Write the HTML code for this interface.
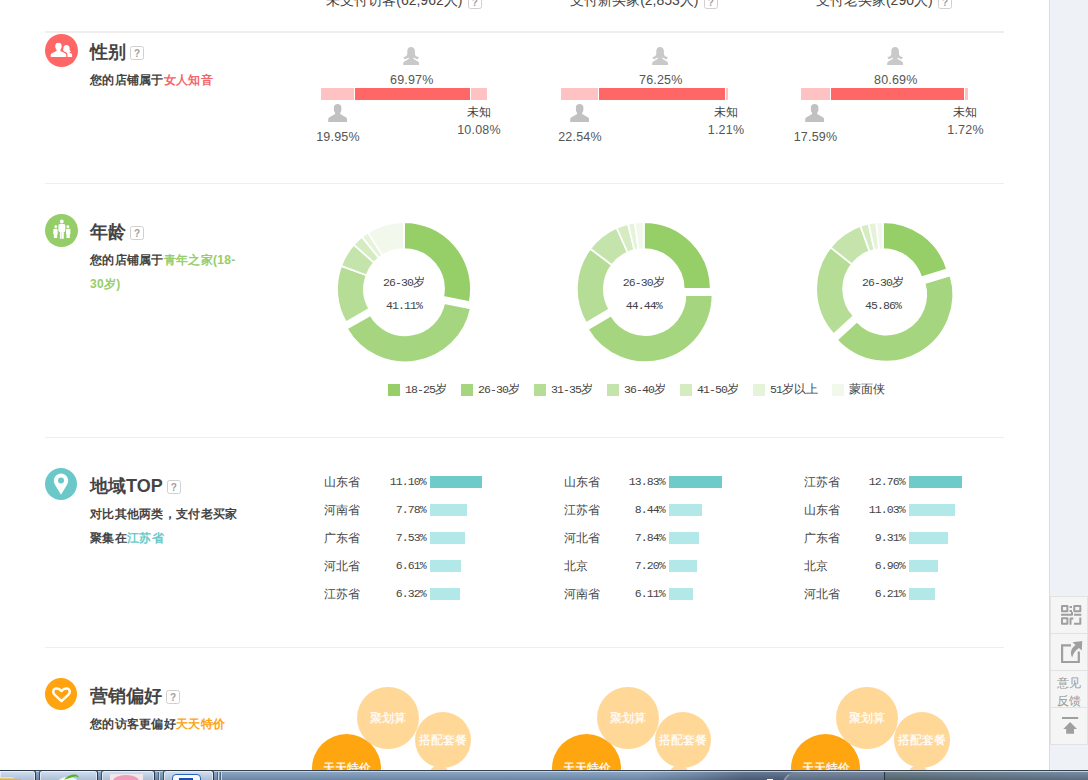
<!-- DOMAINTAG -->
<!DOCTYPE html>
<html lang="zh"><head><meta charset="utf-8"><title>访客对比</title>
<style>
*{box-sizing:border-box}
html,body{margin:0;padding:0}
html{width:1088px;height:780px;overflow:hidden;background:#fff}
body{width:1088px;height:780px;overflow:hidden;position:relative;background:#fff;font-family:"Liberation Sans",sans-serif;color:#555;font-size:12px}
.a{position:absolute}
.side{left:1049px;top:0;width:39px;height:770px;background:#eef1f6;border-left:1px solid #dcdcdc}
.tools{left:1050px;top:596px;width:38px;height:149px;background:#f5f5f5;border:1px solid #e2e2e2}
.tools i{position:absolute;left:0;width:37px;height:1px;background:#e2e2e2}
.hl{left:45px;width:959px;height:1px;background:#eee}
.hd{top:-9px;height:19px;line-height:19px;font-size:14px;color:#444;white-space:nowrap;text-align:center;width:240px}
.q{display:inline-block;width:14px;height:14px;border:1px solid #d0d0d0;border-radius:2.500px;color:#a0a0a0;font-size:10px;line-height:14px;text-align:center;font-weight:bold;vertical-align:middle;background:#fff}
.hd .q{position:relative;top:1px;margin-left:1.500px}
.tt{left:90px;font-size:18px;font-weight:bold;color:#444;line-height:24px;white-space:nowrap;height:24px}
.tt .q{margin-left:4px;position:relative;top:0;font-weight:bold}
.sub{left:90px;letter-spacing:.3px;font-size:12px;font-weight:bold;color:#444;line-height:24px;white-space:nowrap}
.pct{font-size:12.500px;line-height:14px;color:#555;white-space:nowrap;text-align:center;width:80px;letter-spacing:.2px}
.cj{font-size:12px;line-height:14px;color:#444;white-space:nowrap;text-align:center;width:80px}
.bar{top:88px;height:12px}
.mono{font-family:"Liberation Mono",monospace;font-size:11.500px;letter-spacing:-.9px;color:#444;white-space:nowrap}
.lg{top:384px;width:12px;height:12px}
.lgt{top:383px;line-height:14px;font-size:12px;color:#444;white-space:nowrap}
.rn{font-size:12px;line-height:14px;color:#444;white-space:nowrap}
.rp{width:40px;text-align:right;line-height:14px}
.rb{height:12px;background:#b2e9e8}
.rb.d{background:#6fcaca}
.bub{border-radius:50%;color:#fff;font-size:12px;text-align:center;white-space:nowrap;-webkit-text-stroke:.18px #fff}
</style></head><body>
<div id="vp" class="a" style="left:0;top:0;width:1088px;height:780px;overflow:hidden">

<!-- right page gutter -->
<div class="a side"></div>
<div class="a tools">
 <i style="top:36px"></i><i style="top:73px"></i><i style="top:110px"></i>
 <svg class="a" style="left:10px;top:8px" width="21" height="20" viewBox="0 0 21 20" fill="none" stroke="#9f9f9f" stroke-width="2" stroke-linejoin="round">
  <rect x="1" y="1" width="5.400" height="5.200"/><rect x="13.300" y="1" width="6" height="5.200"/><rect x="1" y="13.300" width="5.400" height="5.400"/>
  <path d="M8.600 1.900h2.400M8.600 6h2.400M0 9.700h11v-2.700M13 9.700h7.300M9.500 19.700v-6.300h2.800M13 18.700h6.300v-6.300"/>
 </svg>
 <svg class="a" style="left:10px;top:44px" width="22" height="23" viewBox="0 0 22 23">
  <path d="M10 4.400H1.100v16.600h16.700V10.500" fill="none" stroke="#9f9f9f" stroke-width="2.200"/>
  <path d="M11.500 1.300L21.200 0L20.800 9.400L18 6.900C14.500 9 12.300 12 11.200 16.500C8.500 11.500 10.500 6.800 14.500 4Z" fill="#9f9f9f"/>
 </svg>
 <div class="a" style="left:4px;top:77px;width:28px;font-size:12px;line-height:18px;color:#999;text-align:center">意见<br>反馈</div>
 <svg class="a" style="left:11px;top:120px" width="17" height="18" viewBox="0 0 17 18" fill="#9f9f9f">
  <rect x="0" y="0" width="16.200" height="2"/><path d="M8.100 5.100L15 12H12V16.800H4.200V12H1.300z"/>
 </svg>
</div>

<!-- column headers (clipped by viewport top) -->
<div class="a hd" style="left:284px">未支付访客(62,962人) <span class="q">?</span></div>
<div class="a hd" style="left:524px">支付新买家(2,853人) <span class="q">?</span></div>
<div class="a hd" style="left:764px">支付老买家(290人) <span class="q">?</span></div>

<!-- rules -->
<div class="a hl" style="top:31px;height:2px"></div>
<div class="a hl" style="top:183px"></div>
<div class="a hl" style="top:437px"></div>
<div class="a hl" style="top:647px"></div>

<!-- ============ gender ============ -->
<svg class="a" style="left:45px;top:34px" width="33" height="33" viewBox="0 0 33 33">
 <circle cx="16.5" cy="16.5" r="16.5" fill="#ff6666"/>
 <g fill="#fff">
  <path d="M21.500 10.900c2 0 3.100 1.400 3.100 3.300v1.300c0 .8.5 1.400 1.400 1.900c-.5.5-1.500.9-2.500.9l2.200 1c1 .4 1.400 1 1.400 2V23H19v-5l-1-2.300c.3-.3.4-.7.4-1.500c0-1.900 1.100-3.300 3.100-3.300z"/>
  <path stroke="#ff6666" stroke-width="1.2" d="M13.450 8.200c2.600 0 3.850 1.700 3.850 4c0 1.600-.5 2.800-1.300 3.600v.9l4.300 1.900c1 .5 1.500 1 1.500 2V23.600H5.100V20.600c0-1 .5-1.500 1.500-2l4.300-1.900v-.9c-.8-.8-1.300-2-1.300-3.600c0-2.300 1.250-4 3.850-4z"/>
 </g>
</svg>
<div class="a tt" style="top:40px">性别<span class="q">?</span></div>
<div class="a sub" style="top:68px">您的店铺属于<span style="color:#f5656a">女人知音</span></div>

<div class="a bar" style="left:321px;width:33px;background:#ffc2c2"></div>
<div class="a bar" style="left:355px;width:115px;background:#ff6666"></div>
<div class="a bar" style="left:471px;width:16px;background:#ffc2c2"></div>
<svg class="a" style="left:402.8px;top:46.5px" width="16.400" height="18.400" viewBox="0 0 16.400 18.400"><path fill="#c9c9c9" d="M8.100 0C10.600 0 11.900 1.800 11.900 4.200V7C11.900 8.600 13.500 9.800 16 10.300L14.700 12.200C13 12 11.600 11.300 10.900 10.500L10.300 11.700L15 14.600C15.700 15 16.100 15.600 16.100 16.400V18.400H0.200V16.400C0.200 15.600 0.600 15 1.300 14.600L6 11.700L5.400 10.500C4.700 11.300 3.300 12 1.600 12.200L0.300 10.300C2.800 9.800 4.300 8.600 4.300 7V4.200C4.300 1.800 5.600 0 8.100 0Z"/></svg>
<div class="a pct" style="left:371.8px;top:73px">69.97%</div>
<svg class="a" style="left:327.9px;top:104px" width="19.200" height="18" viewBox="0 0 19.200 18"><path fill="#c1c1c1" d="M9.600 0C12 0 13.400 1.400 13.400 3.500V5.500C13.400 7 12.800 8 12.200 8.800V10L17.800 13.300C18.700 13.800 19.100 14.500 19.100 15.300V18H0.200V15.300C0.200 14.500 0.600 13.800 1.500 13.300L7.100 10V8.800C6.500 8 5.900 7 5.900 5.500V3.500C5.900 1.400 7.300 0 9.600 0Z"/></svg>
<div class="a pct" style="left:298.0px;top:130px">19.95%</div>
<div class="a cj" style="left:438.5px;top:105px">未知</div>
<div class="a pct" style="left:439.0px;top:123px">10.08%</div>
<div class="a bar" style="left:561px;width:37px;background:#ffc2c2"></div>
<div class="a bar" style="left:599px;width:126px;background:#ff6666"></div>
<div class="a bar" style="left:726px;width:1.5px;background:#ffc2c2"></div>
<svg class="a" style="left:651.8px;top:46.5px" width="16.400" height="18.400" viewBox="0 0 16.400 18.400"><path fill="#c9c9c9" d="M8.100 0C10.600 0 11.900 1.800 11.900 4.200V7C11.900 8.600 13.500 9.800 16 10.300L14.700 12.200C13 12 11.600 11.300 10.900 10.500L10.300 11.700L15 14.600C15.700 15 16.100 15.600 16.100 16.400V18.400H0.200V16.400C0.200 15.600 0.600 15 1.300 14.600L6 11.700L5.400 10.500C4.700 11.300 3.300 12 1.600 12.200L0.300 10.300C2.800 9.800 4.300 8.600 4.300 7V4.200C4.300 1.800 5.600 0 8.100 0Z"/></svg>
<div class="a pct" style="left:620.8px;top:73px">76.25%</div>
<svg class="a" style="left:569.9px;top:104px" width="19.200" height="18" viewBox="0 0 19.200 18"><path fill="#c1c1c1" d="M9.600 0C12 0 13.400 1.400 13.400 3.500V5.500C13.400 7 12.800 8 12.200 8.800V10L17.800 13.300C18.700 13.800 19.100 14.500 19.100 15.300V18H0.200V15.300C0.200 14.500 0.600 13.800 1.500 13.300L7.100 10V8.800C6.500 8 5.900 7 5.900 5.500V3.500C5.900 1.400 7.300 0 9.600 0Z"/></svg>
<div class="a pct" style="left:540.0px;top:130px">22.54%</div>
<div class="a cj" style="left:685.5px;top:105px">未知</div>
<div class="a pct" style="left:686.0px;top:123px">1.21%</div>
<div class="a bar" style="left:801px;width:29px;background:#ffc2c2"></div>
<div class="a bar" style="left:831px;width:133px;background:#ff6666"></div>
<div class="a bar" style="left:965px;width:2.5px;background:#ffc2c2"></div>
<svg class="a" style="left:886.8px;top:46.5px" width="16.400" height="18.400" viewBox="0 0 16.400 18.400"><path fill="#c9c9c9" d="M8.100 0C10.600 0 11.900 1.800 11.900 4.200V7C11.900 8.600 13.500 9.800 16 10.300L14.700 12.200C13 12 11.600 11.300 10.900 10.500L10.300 11.700L15 14.600C15.700 15 16.100 15.600 16.100 16.400V18.400H0.200V16.400C0.200 15.600 0.600 15 1.300 14.600L6 11.700L5.400 10.500C4.700 11.300 3.300 12 1.600 12.200L0.300 10.300C2.800 9.800 4.300 8.600 4.300 7V4.200C4.300 1.800 5.600 0 8.100 0Z"/></svg>
<div class="a pct" style="left:855.8px;top:73px">80.69%</div>
<svg class="a" style="left:805.4px;top:104px" width="19.200" height="18" viewBox="0 0 19.200 18"><path fill="#c1c1c1" d="M9.600 0C12 0 13.400 1.400 13.400 3.500V5.500C13.400 7 12.800 8 12.200 8.800V10L17.800 13.300C18.700 13.800 19.100 14.500 19.100 15.300V18H0.200V15.300C0.200 14.500 0.600 13.800 1.500 13.300L7.100 10V8.800C6.500 8 5.900 7 5.900 5.500V3.500C5.900 1.400 7.300 0 9.600 0Z"/></svg>
<div class="a pct" style="left:775.5px;top:130px">17.59%</div>
<div class="a cj" style="left:925.0px;top:105px">未知</div>
<div class="a pct" style="left:925.5px;top:123px">1.72%</div>

<!-- ============ age ============ -->
<svg class="a" style="left:45px;top:214px" width="33" height="33" viewBox="0 0 33 33">
 <circle cx="16.5" cy="16.5" r="16.5" fill="#95ce68"/>
 <g fill="#fff">
  <circle cx="16.800" cy="7.500" r="1.900"/><rect x="13.400" y="9.900" width="6.900" height="8" rx="1.500"/><rect x="14.900" y="16" width="1.800" height="8.800"/><rect x="17" y="16" width="1.800" height="8.800"/>
  <circle cx="10.800" cy="12.700" r="1.400"/><rect x="8.300" y="14.700" width="4.300" height="6" rx="1"/><rect x="8.900" y="18" width="3.300" height="6"/>
  <circle cx="22.900" cy="12.700" r="1.400"/><rect x="21.100" y="14.700" width="4.300" height="6" rx="1"/><rect x="21.500" y="18" width="3.300" height="6"/>
 </g>
</svg>
<div class="a tt" style="top:220px">年龄<span class="q">?</span></div>
<div class="a sub" style="top:248px">您的店铺属于<span style="color:#95ce68">青年之家(18-<br>30岁)</span></div>

<svg class="a" style="left:0;top:0" width="1088" height="780" viewBox="0 0 1088 780">
<path d="M404.00 222.05A66.95 66.95 0 0 1 469.67 302.00L443.19 296.76A39.95 39.95 0 0 0 404.00 249.05Z" fill="#96ce68" stroke="#fff" stroke-width="1.7"/>
<path d="M470.71 308.32A66.95 66.95 0 0 1 346.94 328.59L370.37 315.17A39.95 39.95 0 0 0 444.22 303.08Z" fill="#a5d57e" stroke="#fff" stroke-width="1.7"/>
<path d="M345.90 322.27A66.95 66.95 0 0 1 341.17 265.88L366.51 275.21A39.95 39.95 0 0 0 369.33 308.85Z" fill="#b5dd95" stroke="#fff" stroke-width="1.7"/>
<path d="M341.17 265.88A66.95 66.95 0 0 1 353.78 244.73L374.03 262.58A39.95 39.95 0 0 0 366.51 275.21Z" fill="#c5e4ab" stroke="#fff" stroke-width="1.7"/>
<path d="M353.78 244.73A66.95 66.95 0 0 1 361.96 236.90L378.91 257.91A39.95 39.95 0 0 0 374.03 262.58Z" fill="#d5ebc2" stroke="#fff" stroke-width="1.7"/>
<path d="M361.96 236.90A66.95 66.95 0 0 1 367.93 232.60L382.48 255.34A39.95 39.95 0 0 0 378.91 257.91Z" fill="#e5f3d9" stroke="#fff" stroke-width="1.7"/>
<path d="M367.93 232.60A66.95 66.95 0 0 1 404.00 222.05L404.00 249.05A39.95 39.95 0 0 0 382.48 255.34Z" fill="#f2f9ec" stroke="#fff" stroke-width="1.7"/>
<path d="M643.80 222.05A66.95 66.95 0 0 1 710.75 288.88L683.75 288.93A39.95 39.95 0 0 0 643.80 249.05Z" fill="#96ce68" stroke="#fff" stroke-width="1.7"/>
<path d="M712.44 295.06A66.95 66.95 0 0 1 587.80 329.15L611.07 315.45A39.95 39.95 0 0 0 685.44 295.10Z" fill="#a5d57e" stroke="#fff" stroke-width="1.7"/>
<path d="M586.11 322.98A66.95 66.95 0 0 1 590.33 248.71L611.89 264.96A39.95 39.95 0 0 0 609.38 309.28Z" fill="#b5dd95" stroke="#fff" stroke-width="1.7"/>
<path d="M590.33 248.71A66.95 66.95 0 0 1 616.68 227.79L627.61 252.48A39.95 39.95 0 0 0 611.89 264.96Z" fill="#c5e4ab" stroke="#fff" stroke-width="1.7"/>
<path d="M616.68 227.79A66.95 66.95 0 0 1 628.06 223.93L634.41 250.17A39.95 39.95 0 0 0 627.61 252.48Z" fill="#d5ebc2" stroke="#fff" stroke-width="1.7"/>
<path d="M628.06 223.93A66.95 66.95 0 0 1 634.83 222.65L638.45 249.41A39.95 39.95 0 0 0 634.41 250.17Z" fill="#e5f3d9" stroke="#fff" stroke-width="1.7"/>
<path d="M634.83 222.65A66.95 66.95 0 0 1 643.80 222.05L643.80 249.05A39.95 39.95 0 0 0 638.45 249.41Z" fill="#f2f9ec" stroke="#fff" stroke-width="1.7"/>
<path d="M883.10 222.05A66.95 66.95 0 0 1 947.12 269.43L921.30 277.32A39.95 39.95 0 0 0 883.10 249.05Z" fill="#96ce68" stroke="#fff" stroke-width="1.7"/>
<path d="M950.40 275.32A66.95 66.95 0 0 1 837.07 339.96L856.91 321.65A39.95 39.95 0 0 0 924.54 283.08Z" fill="#a5d57e" stroke="#fff" stroke-width="1.7"/>
<path d="M833.74 334.23A66.95 66.95 0 0 1 830.63 247.41L851.79 264.19A39.95 39.95 0 0 0 853.65 315.99Z" fill="#b5dd95" stroke="#fff" stroke-width="1.7"/>
<path d="M830.63 247.41A66.95 66.95 0 0 1 860.42 226.01L869.57 251.41A39.95 39.95 0 0 0 851.79 264.19Z" fill="#c5e4ab" stroke="#fff" stroke-width="1.7"/>
<path d="M860.42 226.01A66.95 66.95 0 0 1 868.50 223.66L874.39 250.01A39.95 39.95 0 0 0 869.57 251.41Z" fill="#d5ebc2" stroke="#fff" stroke-width="1.7"/>
<path d="M868.50 223.66A66.95 66.95 0 0 1 876.22 222.40L878.99 249.26A39.95 39.95 0 0 0 874.39 250.01Z" fill="#e5f3d9" stroke="#fff" stroke-width="1.7"/>
<path d="M876.22 222.40A66.95 66.95 0 0 1 883.10 222.05L883.10 249.05A39.95 39.95 0 0 0 878.99 249.26Z" fill="#f2f9ec" stroke="#fff" stroke-width="1.7"/>
</svg>
<div class="a lgt" style="left:344.0px;top:275px;width:120px;text-align:center"><span class="mono">26-30</span>岁</div>
<div class="a mono" style="left:344.0px;top:299px;width:120px;text-align:center;line-height:14px">41.11%</div>
<div class="a lgt" style="left:583.8px;top:275px;width:120px;text-align:center"><span class="mono">26-30</span>岁</div>
<div class="a mono" style="left:583.8px;top:299px;width:120px;text-align:center;line-height:14px">44.44%</div>
<div class="a lgt" style="left:823.1px;top:275px;width:120px;text-align:center"><span class="mono">26-30</span>岁</div>
<div class="a mono" style="left:823.1px;top:299px;width:120px;text-align:center;line-height:14px">45.86%</div>
<div class="a lg" style="left:388px;background:#96ce68"></div><div class="a lgt" style="left:405px;top:382px"><span class="mono">18-25</span>岁</div>
<div class="a lg" style="left:461px;background:#a5d57e"></div><div class="a lgt" style="left:478px;top:382px"><span class="mono">26-30</span>岁</div>
<div class="a lg" style="left:534px;background:#b5dd95"></div><div class="a lgt" style="left:551px;top:382px"><span class="mono">31-35</span>岁</div>
<div class="a lg" style="left:607px;background:#c5e4ab"></div><div class="a lgt" style="left:624px;top:382px"><span class="mono">36-40</span>岁</div>
<div class="a lg" style="left:680px;background:#d5ebc2"></div><div class="a lgt" style="left:697px;top:382px"><span class="mono">41-50</span>岁</div>
<div class="a lg" style="left:753px;background:#e5f3d9"></div><div class="a lgt" style="left:770px;top:382px"><span class="mono">51</span>岁以上</div>
<div class="a lg" style="left:832px;background:#f2f9ec"></div><div class="a lgt" style="left:849px;top:382px">蒙面侠</div>

<!-- ============ region ============ -->
<svg class="a" style="left:45px;top:468px" width="32" height="32" viewBox="0 0 32 32">
 <circle cx="16" cy="16" r="16" fill="#6ac9c8"/>
 <path fill="#fff" d="M16 26.800L9.830 16.500A7.200 7.200 0 1 1 22.170 16.500Z"/>
 <circle cx="16" cy="12.500" r="3" fill="#6ac9c8"/>
</svg>
<div class="a tt" style="top:474px">地域TOP<span class="q">?</span></div>
<div class="a sub" style="top:502px">对比其他两类，支付老买家<br>聚集在<span style="color:#6ac9c8">江苏省</span></div>
<div class="a rn" style="left:324px;top:475px">山东省</div><div class="a mono rp" style="left:385.8px;top:475px">11.10%</div><div class="a rb d" style="left:430px;top:476px;width:52px"></div>
<div class="a rn" style="left:324px;top:503px">河南省</div><div class="a mono rp" style="left:385.8px;top:503px">7.78%</div><div class="a rb" style="left:430px;top:504px;width:37px"></div>
<div class="a rn" style="left:324px;top:531px">广东省</div><div class="a mono rp" style="left:385.8px;top:531px">7.53%</div><div class="a rb" style="left:430px;top:532px;width:35px"></div>
<div class="a rn" style="left:324px;top:559px">河北省</div><div class="a mono rp" style="left:385.8px;top:559px">6.61%</div><div class="a rb" style="left:430px;top:560px;width:31px"></div>
<div class="a rn" style="left:324px;top:587px">江苏省</div><div class="a mono rp" style="left:385.8px;top:587px">6.32%</div><div class="a rb" style="left:430px;top:588px;width:30px"></div>
<div class="a rn" style="left:564px;top:475px">山东省</div><div class="a mono rp" style="left:624.8px;top:475px">13.83%</div><div class="a rb d" style="left:669px;top:476px;width:53px"></div>
<div class="a rn" style="left:564px;top:503px">江苏省</div><div class="a mono rp" style="left:624.8px;top:503px">8.44%</div><div class="a rb" style="left:669px;top:504px;width:33px"></div>
<div class="a rn" style="left:564px;top:531px">河北省</div><div class="a mono rp" style="left:624.8px;top:531px">7.84%</div><div class="a rb" style="left:669px;top:532px;width:30px"></div>
<div class="a rn" style="left:564px;top:559px">北京</div><div class="a mono rp" style="left:624.8px;top:559px">7.20%</div><div class="a rb" style="left:669px;top:560px;width:28px"></div>
<div class="a rn" style="left:564px;top:587px">河南省</div><div class="a mono rp" style="left:624.8px;top:587px">6.11%</div><div class="a rb" style="left:669px;top:588px;width:24px"></div>
<div class="a rn" style="left:804px;top:475px">江苏省</div><div class="a mono rp" style="left:864.8px;top:475px">12.76%</div><div class="a rb d" style="left:909px;top:476px;width:53px"></div>
<div class="a rn" style="left:804px;top:503px">山东省</div><div class="a mono rp" style="left:864.8px;top:503px">11.03%</div><div class="a rb" style="left:909px;top:504px;width:46px"></div>
<div class="a rn" style="left:804px;top:531px">广东省</div><div class="a mono rp" style="left:864.8px;top:531px">9.31%</div><div class="a rb" style="left:909px;top:532px;width:39px"></div>
<div class="a rn" style="left:804px;top:559px">北京</div><div class="a mono rp" style="left:864.8px;top:559px">6.90%</div><div class="a rb" style="left:909px;top:560px;width:29px"></div>
<div class="a rn" style="left:804px;top:587px">河北省</div><div class="a mono rp" style="left:864.8px;top:587px">6.21%</div><div class="a rb" style="left:909px;top:588px;width:26px"></div>

<!-- ============ marketing ============ -->
<svg class="a" style="left:45px;top:678px" width="32" height="32" viewBox="0 0 32 32">
 <circle cx="16" cy="16" r="16" fill="#ffa30f"/>
 <path fill="none" stroke="#fff" stroke-width="2.500" stroke-linejoin="round" d="M16.500 23.200L9.300 16.300C7.600 14.600 7.900 11.600 10.300 10.700C12.500 9.900 14.800 11 16.500 13C18.200 11 20.500 9.900 22.700 10.700C25.100 11.600 25.400 14.600 23.700 16.300Z"/>
</svg>
<div class="a tt" style="top:684px">营销偏好<span class="q">?</span></div>
<div class="a sub" style="top:712px">您的访客更偏好<span style="color:#ffa30f">天天特价</span></div>
<div class="a bub" style="left:428.5px;top:765px;width:20px;height:20px;background:#ffd898"></div>
<div class="a bub" style="left:356.5px;top:687px;width:62px;height:62px;line-height:62px;background:#ffd898">聚划算</div>
<div class="a bub" style="left:414.5px;top:712px;width:56px;height:56px;line-height:56px;background:#ffd898">搭配套餐</div>
<div class="a bub" style="left:311.7px;top:733.7px;width:69px;height:69px;line-height:69.500px;text-indent:1px;background:#ffa510">天天特价</div>
<div class="a bub" style="left:668.5px;top:765px;width:20px;height:20px;background:#ffd898"></div>
<div class="a bub" style="left:596.5px;top:687px;width:62px;height:62px;line-height:62px;background:#ffd898">聚划算</div>
<div class="a bub" style="left:654.5px;top:712px;width:56px;height:56px;line-height:56px;background:#ffd898">搭配套餐</div>
<div class="a bub" style="left:551.7px;top:733.7px;width:69px;height:69px;line-height:69.500px;text-indent:1px;background:#ffa510">天天特价</div>
<div class="a bub" style="left:907.7px;top:765px;width:20px;height:20px;background:#ffd898"></div>
<div class="a bub" style="left:835.7px;top:687px;width:62px;height:62px;line-height:62px;background:#ffd898">聚划算</div>
<div class="a bub" style="left:893.7px;top:712px;width:56px;height:56px;line-height:56px;background:#ffd898">搭配套餐</div>
<div class="a bub" style="left:790.9px;top:733.7px;width:69px;height:69px;line-height:69.500px;text-indent:1px;background:#ffa510">天天特价</div>

<!-- ============ OS taskbar ============ -->
<div class="a" style="left:0;top:770px;width:1088px;height:10px;background:linear-gradient(rgba(255,255,255,.15),rgba(0,0,0,.17)),linear-gradient(90deg,#80a0c3 0,#80a0c3 640px,#728cae 690px,#566c8a 745px,#546a88 884px,#5f747f 885px,#647a8b 960px,#6a829d 1088px)"></div>
<div class="a" style="left:0;top:770px;width:1088px;height:1px;background:#36424f"></div>
<div class="a" style="left:0;top:771px;width:1088px;height:1px;background:linear-gradient(90deg,#bdd5ef 0,#bdd5ef 640px,#b4c6da 760px,#c3d2e2 1088px)"></div>
<div class="a" style="left:0px;top:770px;width:35.5px;height:13px;border:1px solid #2b3848;border-left:0;border-radius:0 3px 0 0;background:linear-gradient(#d3dfee,#a3b9d3);box-shadow:inset 0 0 0 1px rgba(255,255,255,.55)"></div>
<div class="a" style="left:39px;top:770px;width:58.5px;height:13px;border:1px solid #2b3848;border-left:1px solid #3d506b;border-radius:3px 3px 0 0;background:linear-gradient(#d3dfee,#a3b9d3);box-shadow:inset 0 0 0 1px rgba(255,255,255,.55)"></div>
<div class="a" style="left:101px;top:770px;width:54px;height:13px;border:1px solid #2b3848;border-left:1px solid #3d506b;border-radius:3px 3px 0 0;background:linear-gradient(#d3dfee,#a3b9d3);box-shadow:inset 0 0 0 1px rgba(255,255,255,.55)"></div>
<div class="a" style="left:162.5px;top:770px;width:51.5px;height:13px;border:1px solid #2b3848;border-left:1px solid #3d506b;border-radius:3px 3px 0 0;background:linear-gradient(#d3dfee,#a3b9d3);box-shadow:inset 0 0 0 1px rgba(255,255,255,.55)"></div>
<div class="a" style="left:158px;top:772px;width:1px;height:8px;background:#51657f"></div><div class="a" style="left:159px;top:772px;width:1px;height:8px;background:#c7d6e8"></div>
<div class="a" style="left:217px;top:772px;width:1px;height:8px;background:#51657f"></div><div class="a" style="left:218px;top:772px;width:1px;height:8px;background:#c7d6e8"></div>
<div class="a" style="left:220px;top:772px;width:1px;height:8px;background:#51657f"></div><div class="a" style="left:221px;top:772px;width:1px;height:8px;background:#c7d6e8"></div>
<div class="a" style="left:0;top:777px;width:14px;height:4px;background:#e8c776;border-top:1px solid #f6e3a8;border-radius:0 2px 0 0"></div><div class="a" style="left:0;top:778.500px;width:21px;height:3px;background:#d9b45e"></div>
<svg class="a" style="left:56px;top:773px" width="28" height="7" viewBox="0 0 28 7"><ellipse cx="12" cy="9" rx="10" ry="5" fill="#f4f7f4"/><path d="M8 6.500C11 3.500 14 2 18 1.500C21 1.200 22.500 3 23 5C21 3.200 19 3 16.500 4C13.500 5 11 6 8 6.500Z" fill="#4cb520"/></svg>
<div class="a" style="left:110px;top:773.500px;width:33px;height:8px;background:#f1e6ea"></div><div class="a" style="left:113px;top:775px;width:26px;height:12px;border-radius:50%;background:#ef9cb8"></div>
<div class="a" style="left:172px;top:774px;width:29px;height:8px;border:1.500px solid #2a62c0;border-radius:4px 4px 0 0;background:#f4f8ff"></div><div class="a" style="left:179px;top:777.500px;width:14px;height:3px;background:#1c4fb0"></div>
<div class="a" style="left:884px;top:772px;width:1px;height:8px;background:#2a3441"></div>
<div class="a" style="left:767px;top:778.500px;width:6px;height:2px;background:#fff"></div>
<div class="a" style="left:782px;top:771px;width:102px;height:24px;border-radius:16px 0 0 0;background:rgba(255,255,255,.12);border-top:1px solid rgba(255,255,255,.0);border-left:2px solid rgba(255,255,255,.3)"></div>
</div>
</body></html>
